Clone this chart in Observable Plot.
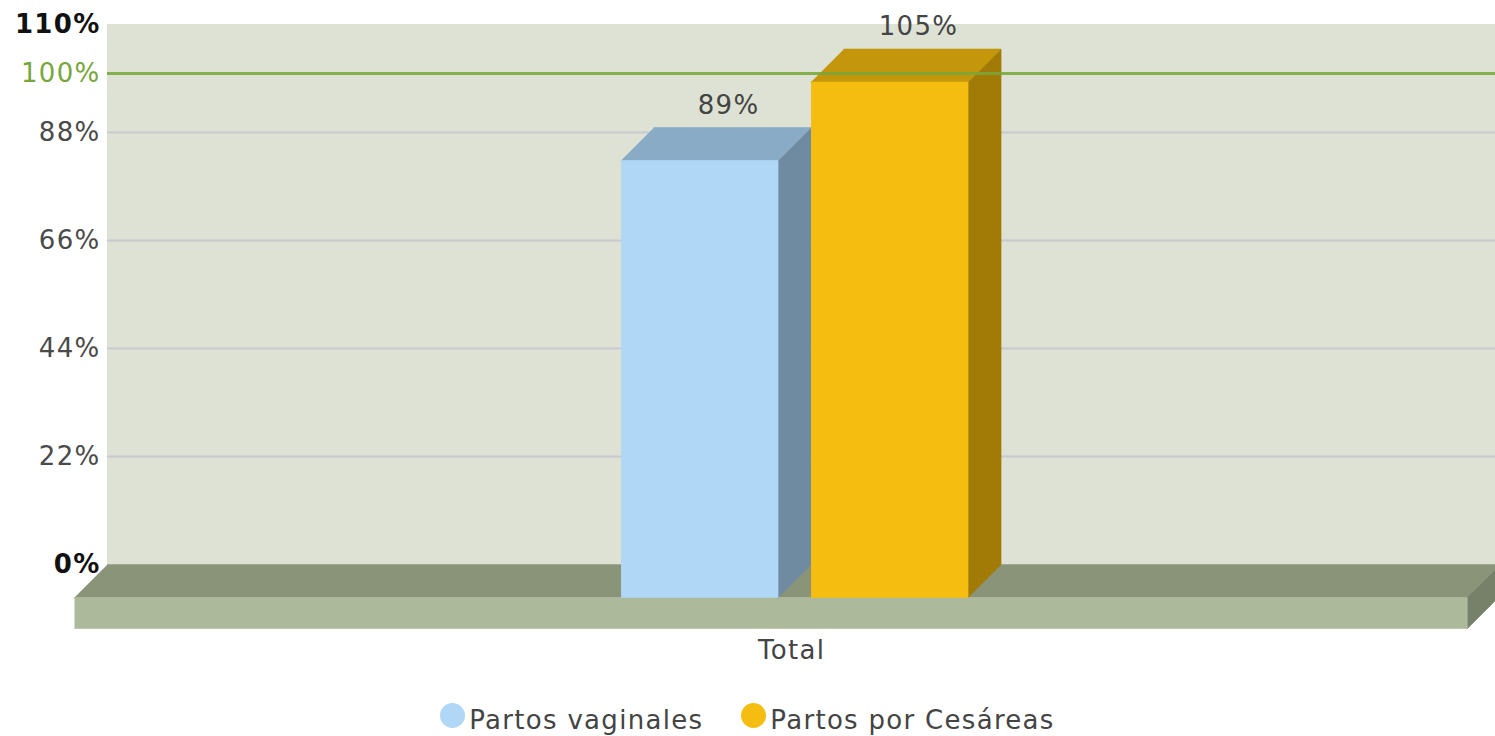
<!DOCTYPE html>
<html><head><meta charset="utf-8">
<script src="https://cdn.jsdelivr.net/npm/d3@7"></script>
<script src="https://cdn.jsdelivr.net/npm/@observablehq/plot@0.6"></script>
<style>
body{margin:0;background:#fff;font-family:"DejaVu Sans",Verdana,sans-serif;overflow:hidden}
svg text{letter-spacing:1.3px}
#legend{display:flex;justify-content:center;align-items:center;height:36px;font-size:26px;letter-spacing:1.3px;color:#444;gap:38px;position:relative;top:2px}
.item{display:flex;align-items:center}
.dot{width:25px;height:25px;border-radius:50%;margin-right:4px;position:relative;top:-5px}
</style></head><body><div id="chart"></div><div id="legend"></div>
<script>
// ---- data ----
const categories = ["Total"];
const series = ["Partos vaginales", "Partos por Cesáreas"];
const values = [89, 105];
const valueLabels = ["89%", "105%"];
const tickValues = [0, 22, 44, 66, 88, 110];
const tickLabels = ["0%", "22%", "44%", "66%", "88%", "110%"];
const targetValue = 100;
const targetLabel = "100%";

// ---- style / layout ----
const W = 1495, H = 700;
const xDomain = [0, 100], xRange = [74, 1467];
const yDomain = [0, d3.max(tickValues)], yRange = [597, 57];
const DEPTH_PX = 33, FLOOR_PX = 31, BAR_PX = 157;
const GROUP_CENTER = 51.69;
const FONT = "DejaVu Sans, Verdana, sans-serif";
const faces = [
  {front: "#b0d7f5", top: "#8aabc6", side: "#6f8ba1"},
  {front: "#f5bd10", top: "#c4960b", side: "#a17b05"}
];
const xs = d3.scaleLinear(xDomain, xRange);
const ys = d3.scaleLinear(yDomain, yRange);
const pxX = (xs.invert(xRange[0] + 1) - xs.invert(xRange[0]));
const pxY = (ys.invert(yRange[0] - 1) - ys.invert(yRange[0]));
const dX = DEPTH_PX * pxX, dY = DEPTH_PX * pxY;
const thick = FLOOR_PX * pxY, barW = BAR_PX * pxX;

const polys = [];
const poly = (fill, pts) => polys.push({fill, pts});
const [x0, x1] = xDomain;
// floor
poly("#899479", [[x0, 0], [x1, 0], [x1 + dX, dY], [x0 + dX, dY]]);
poly("#adb99b", [[x0, 0], [x1, 0], [x1, -thick], [x0, -thick]]);
poly("#77816a", [[x1, 0], [x1 + dX, dY], [x1 + dX, dY - thick], [x1, -thick]]);
// bars
const groupW = series.length * barW + (series.length - 1) * dX;
const barLeft = i => GROUP_CENTER - groupW / 2 + i * (barW + dX);
values.forEach((v, i) => {
  const a = barLeft(i), b = a + barW, f = faces[i];
  poly(f.side, [[b, 0], [b + dX, dY], [b + dX, v + dY], [b, v]]);
  poly(f.top, [[a, v], [b, v], [b + dX, v + dY], [a + dX, v + dY]]);
  poly(f.front, [[a, 0], [b, 0], [b, v], [a, v]]);
});

const back = {dx: DEPTH_PX, dy: -DEPTH_PX};
const tickFont = {fontSize: 26, fontFamily: FONT, textAnchor: "end"};
const idx = tickValues.map((d, i) => i);
const isEdge = i => i === 0 || i === tickValues.length - 1;

const chart = Plot.plot({
  width: W, height: H,
  style: {overflow: "hidden", background: "#fff"},
  x: {domain: xDomain, range: xRange, axis: null},
  y: {domain: yDomain, range: yRange, axis: null},
  marks: [
    Plot.rect([0], {x1: x0, x2: x1 + 1, y1: yDomain[0], y2: yDomain[1], fill: "#dde2d4", ...back}),
    Plot.ruleY(tickValues.filter((d, i) => !isEdge(i)), {x1: x0, x2: x1 + 1, y: d => d, stroke: "#c8c9cf", strokeWidth: 2, ...back}),
    ...polys.map(p => Plot.line(p.pts, {x: d => d[0], y: d => d[1], fill: p.fill, stroke: p.fill, strokeWidth: 0.6})),
    Plot.text(idx.filter(i => !isEdge(i)), {x: x0, y: i => tickValues[i], text: i => tickLabels[i], fill: "#4a4a4a", ...tickFont, dx: DEPTH_PX - 7, dy: -DEPTH_PX}),
    Plot.text(idx.filter(isEdge), {x: x0, y: i => tickValues[i], text: i => tickLabels[i], fill: "#111", fontWeight: "bold", ...tickFont, dx: DEPTH_PX - 7, dy: -DEPTH_PX}),
    Plot.text([targetValue], {x: x0, y: d => d, text: () => targetLabel, fill: "#77a63a", ...tickFont, dx: DEPTH_PX - 7, dy: -DEPTH_PX}),
    Plot.ruleY([targetValue], {x1: x0, x2: x1 + 1, y: d => d, stroke: "#78a73a", strokeWidth: 3, strokeOpacity: 0.88, ...back}),
    Plot.text(values, {x: (v, i) => barLeft(i) + barW / 2 + dX, y: v => v + dY, text: (v, i) => valueLabels[i], fill: "#444", fontSize: 26, fontFamily: FONT, dx: -4, dy: -22}),
    Plot.text(categories, {x: GROUP_CENTER, y: 0, text: d => d, fill: "#444", fontSize: 26, fontFamily: FONT, dx: -3, dy: 53})
  ]
});
document.getElementById("chart").appendChild(chart);

const legend = document.getElementById("legend");
series.forEach((s, i) => {
  const it = document.createElement("div"); it.className = "item";
  const dot = document.createElement("span"); dot.className = "dot"; dot.style.background = faces[i].front;
  const t = document.createElement("span"); t.textContent = s;
  it.appendChild(dot); it.appendChild(t); legend.appendChild(it);
});
</script></body></html>
